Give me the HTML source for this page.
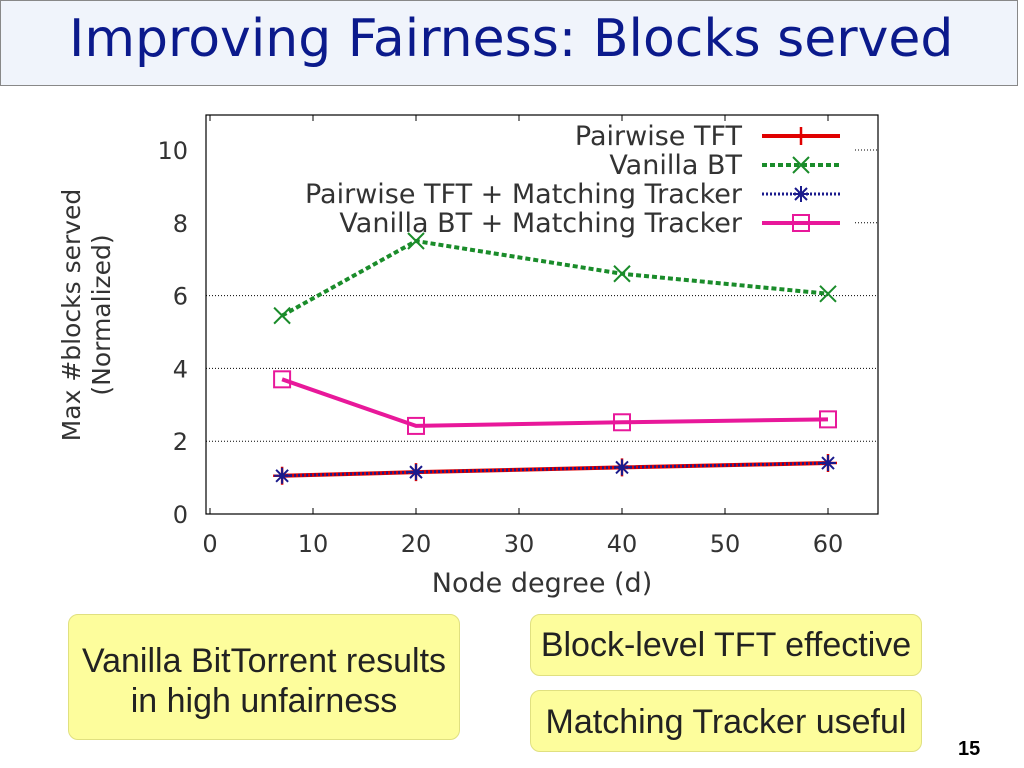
<!DOCTYPE html>
<html><head><meta charset="utf-8"><style>
body{margin:0;width:1024px;height:768px;background:#fff;position:relative;overflow:hidden;font-family:"Liberation Sans",sans-serif}
.title{position:absolute;left:0;top:0;width:1016px;height:84px;border:1px solid #888;background:#f0f4fb}
.title span{position:absolute;left:68px;top:8px;font-size:52px;color:#0b1a8c;font-family:"DejaVu Sans",sans-serif;white-space:nowrap}
.box{position:absolute;background:#fdfd9c;border:1px solid #e0e080;border-radius:10px;color:#222;font-size:34px;text-align:center;white-space:nowrap}
svg text{font-family:"DejaVu Sans",sans-serif}
</style></head><body>
<div class="title"><span>Improving Fairness: Blocks served</span></div>
<svg width="1024" height="768" style="position:absolute;left:0;top:0">
<g id="g"></g>
</svg>
<div class="box" style="left:68px;top:614px;width:392px;height:126px;line-height:40px;padding-top:26px;box-sizing:border-box">Vanilla BitTorrent results<br>in high unfairness</div>
<div class="box" style="left:530px;top:614px;width:390px;height:60px;line-height:60px">Block-level TFT effective</div>
<div class="box" style="left:530px;top:690px;width:390px;height:60px;line-height:62px">Matching Tracker useful</div>
<div style="position:absolute;left:958px;top:738px;font-size:20px;font-weight:bold">15</div>
<script>
const xs=[7,20,40,60];
const vanilla=[5.45,7.5,6.6,6.05];
const vanillaMT=[3.7,2.42,2.52,2.6];
const tft=[1.05,1.15,1.28,1.4];
const tftMT=[1.05,1.15,1.28,1.4];
const xticks=[0,10,20,30,40,50,60];
const yticks=[0,2,4,6,8,10];
const X=v=>210+v*(828-210)/60, Y=v=>514-v*36.4;
const g=document.getElementById('g');const NS='http://www.w3.org/2000/svg';
function el(t,a,p){const e=document.createElementNS(NS,t);for(const k in a)e.setAttribute(k,a[k]);(p||g).appendChild(e);return e;}
let e=el('rect',{x:206,y:115,width:672,height:399,fill:'none',stroke:'#000','stroke-width':1.2});


yticks.forEach(v=>{const y=Y(v);
 if(v>0&&v<8){const l=el('line',{x1:206,x2:878,y1:y,y2:y,stroke:'#000','stroke-dasharray':'1 2'});
 
 }
 if(v>=8){el('line',{x1:855,x2:878,y1:y,y2:y,stroke:'#000','stroke-dasharray':'1 2'});}
 const t=el('text',{x:188,y:y+9,'text-anchor':'end','font-size':24,fill:'#333'});t.textContent=v;
 
 });
xticks.forEach(v=>{const x=X(v);el('line',{x1:x,x2:x,y1:514,y2:508,stroke:'#000'});el('line',{x1:x,x2:x,y1:115,y2:121,stroke:'#000'});
 const t=el('text',{x:x,y:552,'text-anchor':'middle','font-size':24,fill:'#333'});t.textContent=v;
 
 });
let t=el('text',{x:542,y:592,'text-anchor':'middle','font-size':27,fill:'#333'});t.textContent='Node degree (d)';


t=el('text',{transform:'translate(80,315) rotate(-90)','text-anchor':'middle','font-size':25,fill:'#333'});t.textContent='Max #blocks served';


t=el('text',{transform:'translate(110,315) rotate(-90)','text-anchor':'middle','font-size':25,fill:'#333'});t.textContent='(Normalized)';


function mark(type,x,y,c){
 if(type=='plus'){el('path',{d:`M${x-9} ${y}h18M${x} ${y-9}v18`,stroke:c,'stroke-width':2.5});}
 if(type=='x'){el('path',{d:`M${x-8} ${y-8}l16 16M${x+8} ${y-8}l-16 16`,stroke:c,'stroke-width':2});}
 if(type=='star'){el('path',{d:`M${x-8} ${y}h16M${x} ${y-8}v16M${x-6} ${y-6}l12 12M${x+6} ${y-6}l-12 12`,stroke:c,'stroke-width':2});}
 if(type=='sq'){el('rect',{x:x-8,y:y-8,width:16,height:16,fill:'none',stroke:c,'stroke-width':2});}
}
function series(name,data,c,dash,w,m){
 const p=el('polyline',{points:xs.map((x,i)=>X(x)+','+Y(data[i])).join(' '),fill:'none',stroke:c,'stroke-width':w,'stroke-dasharray':dash});
 
 
 xs.forEach((x,i)=>mark(m,X(x),Y(data[i]),c));
}
series('series-vanilla-bt-mt',vanillaMT,'#e8189a','',4,'sq');
series('series-vanilla-bt',vanilla,'#1a8c2a','5 3',4,'x');
series('series-pairwise-tft',tft,'#e00000','',4,'plus');
series('series-pairwise-tft-mt',tftMT,'#1a1a8c','2 2',3,'star');
const leg=[['Pairwise TFT','#e00000','',4,'plus'],['Vanilla BT','#1a8c2a','5 3',4,'x'],['Pairwise TFT + Matching Tracker','#1a1a8c','2 2',3,'star'],['Vanilla BT + Matching Tracker','#e8189a','',4,'sq']];
leg.forEach((l,i)=>{const y=136+i*29;
 const tx=el('text',{x:742,y:y+9,'text-anchor':'end','font-size':27,fill:'#333'});tx.textContent=l[0];
 
 
 el('line',{x1:762,x2:840,y1:y,y2:y,stroke:l[1],'stroke-width':l[3],'stroke-dasharray':l[2]});
 mark(l[4],801,y,l[1]);});
</script>
</body></html>
